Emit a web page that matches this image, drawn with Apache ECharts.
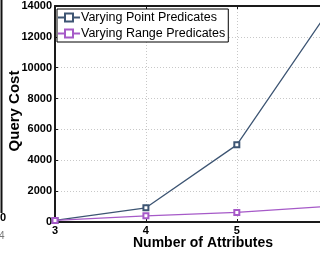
<!DOCTYPE html>
<html>
<head>
    <meta charset="utf-8">
    <title>Query Cost</title>
    <script src="https://cdn.jsdelivr.net/npm/echarts@6/dist/echarts.min.js"></script>
</head>
<body style="margin:0;">
    <div id="main" style="width: 320px;height:257px;"></div>
    <script type="text/javascript">
        var attributes = [3, 4, 5, 6];
        var pointCost = [100, 920, 5000, 13600];
        var rangeCost = [100, 400, 620, 1020];
        var xTicks = [3, 4, 5];
        var yTicks = [0, 2000, 4000, 6000, 8000, 10000, 12000, 14000];

        var blue = '#3d5573';
        var purple = '#a65ac8';
        var font = 'Liberation Sans, Arial, sans-serif';

        var myChart = echarts.init(document.getElementById('main'));

        function pairs(vals) {
            return attributes.map(function (a, i) { return [a, vals[i]]; });
        }

        // x range is cut at the right edge of the picture (axis runs on to 6)
        var xMin = xTicks[0], xMax = 5.915;

        var axisCommon = {
            type: 'value',
            min: xMin, max: xMax, interval: 1
        };

        var option = {
            backgroundColor: '#fff',
            animation: false,
            grid: { left: 55, right: 0, top: 6, bottom: 35, outerBoundsMode: 'none', containLabel: false },
            legend: {
                orient: 'vertical',
                left: 57, top: 9,
                backgroundColor: '#fff',
                borderColor: '#000',
                borderWidth: 1,
                padding: [2, 3, 2, 0],
                itemGap: 3,
                itemWidth: 22,
                itemHeight: 10,
                textStyle: { fontFamily: font, fontSize: 12.5, color: '#000', padding: [0, 0, 0, -4] },
                data: ['Varying Point Predicates', 'Varying Range Predicates']
            },
            xAxis: [Object.assign({}, axisCommon, {
                position: 'bottom',
                axisLine: { lineStyle: { color: '#1a1a1a', width: 2 } },
                axisTick: { inside: true, length: 3, lineStyle: { color: '#1a1a1a' } },
                axisLabel: {
                    fontFamily: font, fontWeight: 'bold', fontSize: 11, color: '#000', margin: 3,
                    showMaxLabel: false,
                    formatter: function (v) { return xTicks.indexOf(v) >= 0 ? String(v) : ''; }
                },
                splitLine: { show: true, showMaxLine: false, showMinLine: false, lineStyle: { color: '#c8c8c8', type: [1, 2] } }
            }), Object.assign({}, axisCommon, {
                position: 'top',
                axisLine: { lineStyle: { color: '#1a1a1a', width: 2 } },
                axisTick: { inside: true, length: 3, lineStyle: { color: '#1a1a1a' } },
                axisLabel: { show: false },
                splitLine: { show: false }
            })],
            yAxis: {
                type: 'value',
                min: yTicks[0], max: yTicks[yTicks.length - 1], interval: 2000,
                axisLine: { show: true, lineStyle: { color: '#1a1a1a', width: 2 } },
                axisTick: { show: true, inside: true, length: 3, lineStyle: { color: '#1a1a1a' } },
                axisLabel: {
                    fontFamily: font, fontWeight: 'bold', fontSize: 11, color: '#000', margin: 3,
                    formatter: function (v) { return String(v); }
                },
                splitLine: { show: true, showMaxLine: false, showMinLine: false, lineStyle: { color: '#c8c8c8', type: [1, 2] } }
            },
            graphic: [
                { type: 'text', x: 15, y: 111, rotation: Math.PI / 2, style: { text: 'Query Cost', font: 'bold 15px ' + font, fill: '#000', textAlign: 'center', textVerticalAlign: 'middle' } },
                { type: 'text', x: 203, y: 243, style: { text: 'Number of Attributes', font: 'bold 14px ' + font, fill: '#000', textAlign: 'center', textVerticalAlign: 'middle' } },
                { type: 'line', shape: { x1: 1.5, y1: 0, x2: 1.5, y2: 213 }, style: { stroke: '#111', lineWidth: 2 } },
                { type: 'text', x: 0, y: 218, style: { text: '0', font: 'bold 11px ' + font, fill: '#000', textVerticalAlign: 'middle' } },
                { type: 'text', x: -1, y: 236, style: { text: '4', font: '10px ' + font, fill: '#777', textVerticalAlign: 'middle' } }
            ],
            series: [{
                name: 'Varying Point Predicates',
                type: 'line',
                data: pairs(pointCost),
                symbol: 'emptyRect',
                symbolSize: 5,
                color: blue,
                lineStyle: { width: 1.3, color: blue },
                itemStyle: { color: blue, borderWidth: 1.3 }
            }, {
                name: 'Varying Range Predicates',
                type: 'line',
                data: pairs(rangeCost),
                symbol: 'emptyRect',
                symbolSize: 5,
                color: purple,
                lineStyle: { width: 1.3, color: purple },
                itemStyle: { color: purple, borderWidth: 1.3 }
            }]
        };

        myChart.setOption(option);
    </script>
</body>
</html>
